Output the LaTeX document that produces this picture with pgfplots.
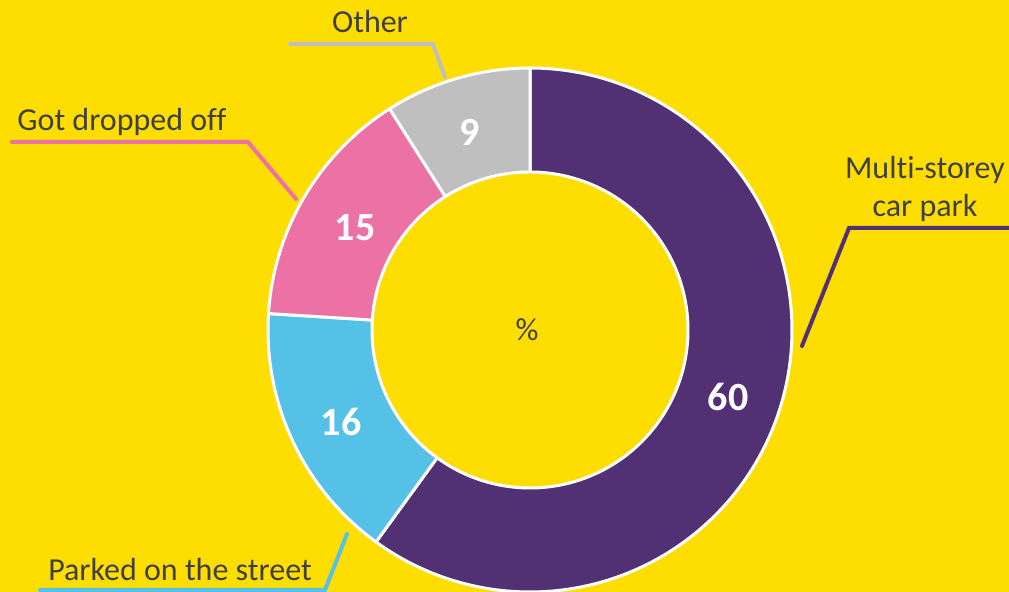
\documentclass[border=0pt]{standalone}
\usepackage{pgfplots}
\pgfplotsset{compat=1.18}
\usepackage{fontspec}
\setmainfont{Carlito}[RawFeature={-liga;-clig;-calt;-rlig}]

\definecolor{bgyellow}{RGB}{254,221,0}
\definecolor{cpurple}{RGB}{81,49,116}
\definecolor{cblue}{RGB}{86,193,230}
\definecolor{cpink}{RGB}{236,114,166}
\definecolor{cgrey}{RGB}{191,191,191}
\definecolor{ctext}{RGB}{64,64,64}

% donut slice: cumulative start %, cumulative end %, colour
% t in [0,1] runs along the outer rim, t in (1,2] back along the inner rim
\newcommand{\slice}[3]{%
  \addplot[fill=#3, draw=white, line width=1.5pt, domain=0:2, samples=401,
    variable=\t, line join=round]
    ({530 + ((\t<=1) ? 262 : 158)*cos(90-3.6*((\t<=1) ? (#1+\t*(#2-#1)) : (#2-max(0,(\t-1.005))/0.995*(#2-#1))))},
     {262 + ((\t<=1) ? 262 : 158)*sin(90-3.6*((\t<=1) ? (#1+\t*(#2-#1)) : (#2-max(0,(\t-1.005))/0.995*(#2-#1))))})
    -- cycle;
}

\tikzset{
  lab/.style={font=\fontsize{16}{19}\selectfont, text=ctext, inner sep=0pt},
  val/.style={font=\fontsize{20}{24}\selectfont\bfseries, text=white, inner sep=0pt},
}

\begin{document}
\begin{tikzpicture}
\begin{axis}[
    scale only axis,
    width=504.5pt, height=296pt,
    xmin=0, xmax=1009, ymin=0, ymax=592,
    axis lines=none, ticks=none,
    axis background/.style={fill=bgyellow},
    clip=false,
]
% values: Multi-storey car park 60, Parked on the street 16, Got dropped off 15, Other 9
\slice{0}{60}{cpurple}
\slice{60}{76}{cblue}
\slice{76}{91}{cpink}
\slice{91}{100}{cgrey}

% leader lines
\addplot[cgrey, line width=2pt, line cap=round] coordinates {(290,548) (433,548) (445,515)};
\addplot[cpink, line width=2pt, line cap=round] coordinates {(12,450) (248,450) (296,393)};
\addplot[cpurple, line width=2pt, line cap=round] coordinates {(1012,364) (849,364) (802,246)};
\addplot[cblue, line width=2pt, line cap=round] coordinates {(40,2) (325,2) (347,58)};

% outside labels
\node[lab] at (axis cs:370,570) {Other};
\node[lab] at (axis cs:122,470) {Got dropped off};
\node[lab, align=center] at (axis cs:925,403) {Multi-storey\\car park};
\node[lab] at (axis cs:180,22) {Parked on the street};

% values in the slices
\node[val] at (axis cs:728,195) {60};
\node[val] at (axis cs:341,170) {16};
\node[val] at (axis cs:355,364) {15};
\node[val] at (axis cs:470,460) {9};
\node[lab] at (axis cs:527,262) {\%};
\end{axis}
\pgfresetboundingbox
\useasboundingbox (current axis.south west) rectangle (current axis.north east);
\end{tikzpicture}
\end{document}
